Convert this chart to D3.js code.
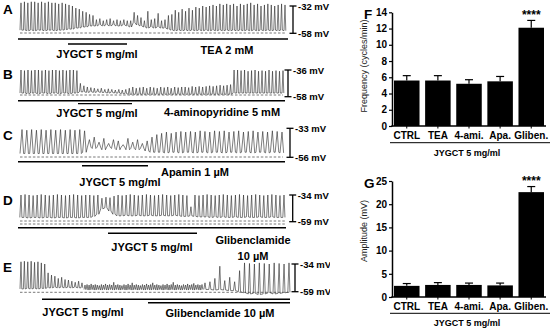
<!DOCTYPE html>
<html><head><meta charset="utf-8">
<script src="https://cdn.jsdelivr.net/npm/d3@7"></script>
<style>
body{margin:0;background:#fff}
svg{display:block}
text{font-family:"Liberation Sans",Arial,sans-serif}
</style>
</head><body>
<svg id="c" width="550" height="328"></svg>
<script>
// ---------- bar chart data ----------
const categories = ["CTRL","TEA","4-ami.","Apa.","Gliben."];
const freqMean = [5.6,5.6,5.2,5.5,12.1];
const freqErr  = [0.6,0.6,0.5,0.6,0.9];
const ampMean  = [2.4,2.6,2.6,2.5,22.6];
const ampErr   = [0.5,0.5,0.4,0.5,1.2];
const freqTicks = [0,2,4,6,8,10,12,14];
const ampTicks  = [0,5,10,15,20,25];
const sigLabel = "****";
const groupLabel = "JYGCT 5 mg/ml";

// ---------- trace data: [spike peak mV, trough mV] per spike ----------
const traceA = [
[-29,-55],[-28,-55],[-29,-55.5],[-28,-55],[-28,-55.5],[-29,-55],[-28,-55],[-29,-55.5],[-28,-55],[-29,-55],[-29,-55.5],[-30,-55],[-29,-55],[-30,-54.5],
[-31,-54],[-32,-54],[-34,-53],[-35,-53],[-37,-52],[-38,-52],[-40,-51],[-41,-51],
[-45,-51],[-44,-50],[-46,-51],[-45,-50],[-44,-51],[-46,-50],[-45,-51],[-46,-51],[-45,-50],[-46,-51],[-46,-52],
[-38,-48],[-41,-50],[-43,-51],
[-46,-52],[-37,-53],[-45,-52],[-44,-53],[-39,-52],[-46,-53],[-45,-53],[-41,-54],
[-40,-55],[-36,-55.5],[-38,-55],[-35,-55.5],[-37,-55],[-34,-55.5],[-36,-55],[-33,-55.5],[-34,-55],[-32,-55.5],[-33,-55],[-32,-55.5],[-31,-55],[-32,-55.5],[-30,-55],[-31,-55.5],[-30,-55],[-31,-55.5],[-30,-55],[-32,-55.5],[-30,-55],[-31,-55.5],[-30,-55],[-29,-55.5],[-31,-55],[-30,-55.5],[-32,-55],[-31,-55.5],[-30,-55],[-31,-55.5],[-32,-55],[-31,-55.5],[-30,-55],[-31,-55.5]];
const traceB = [
[-36,-55],[-36.5,-55],[-36,-55.5],[-36.5,-55],[-36,-55],[-36,-55.5],[-36.5,-55],[-36,-55],[-36.5,-55.5],[-36,-55],[-36,-55],[-36.5,-55.5],[-36,-55],[-36.5,-55],[-36,-55.5],[-36,-55],[-36.5,-55],
[-47,-54],[-49,-54],[-50,-54.5],[-50.5,-54],[-51,-54.5],[-51.5,-54],[-51,-54.5],[-52,-54.5],[-51.5,-55],[-52,-54.5],[-52.5,-55],[-52,-55],[-52.5,-55.5],[-52,-55.5],
[-51,-56],[-50,-56],[-51,-56],[-50.5,-56],[-50,-56],[-51,-56],[-50,-56],[-50.5,-56],[-51,-56],[-50,-56],[-50.5,-56],[-50,-56],[-51,-56],[-50,-56],[-50.5,-56],[-50,-56],[-50,-56],[-50.5,-56],[-49.5,-56],[-50,-56],[-49.5,-56],[-50,-56],[-49.5,-56],[-49,-56],[-49.5,-56],[-49,-56],[-48.5,-56],[-49,-56],[-48.5,-56],[-48,-56],
[-36,-55],[-36,-55],[-36.5,-55],[-36,-55],[-37,-55],[-36.5,-55],[-36,-55],[-37,-55],[-36.5,-55],[-37,-55],[-36,-55],[-37,-55],[-36.5,-55],[-37,-55],[-36.5,-55]];
const traceC = [
[-34,-53],[-34.5,-53],[-34,-53],[-34.5,-53],[-34,-53],[-34.5,-53],[-34,-53],[-34.5,-53],[-34,-53],[-34.5,-53],[-34,-53],[-34.5,-53],[-34,-53],
[-35,-52],[-42,-48],[-40,-49],[-44,-48],[-41,-50],[-45,-48],[-42,-49],[-43,-50],[-46,-48],[-41,-50],[-44,-49],[-42,-50],[-45,-49],[-43,-51],
[-40,-52],[-38,-52],[-37,-52],[-36,-52.5],[-37,-52],[-36,-52],[-35.5,-52.5],[-36,-52],[-35.5,-52],[-36,-52.5],[-35,-52],[-35.5,-52],[-36,-52.5],[-35,-52],[-35.5,-52],[-35,-52.5],[-36,-52],[-35.5,-52],[-35,-52.5],[-36,-52],[-35.5,-52],[-35,-52.5],[-36,-52],[-35.5,-52],[-36,-52.5],[-35,-52],[-35.5,-52],[-36,-52.5]];
const traceD = [
[-34,-55],[-33.5,-55],[-34,-55.5],[-34.5,-55],[-34,-55],[-33.5,-55.5],[-34,-55],[-34.5,-55],[-34,-55.5],[-33.5,-55],[-34,-55],[-34.5,-55.5],[-34,-55],[-33.5,-55],[-34,-55.5],[-34.5,-55],[-34,-55],[-34,-55],[-34.5,-54],[-34,-52],
[-37,-47],[-36,-46],[-36.5,-49],[-35,-52],
[-34,-53.5],[-34.5,-53.5],[-34,-53],[-33.5,-53.5],[-34,-53.5],[-34.5,-53],[-34,-53.5],[-33.5,-53.5],[-34,-53],[-34.5,-53.5],[-34,-53.5],[-33.5,-53],[-34,-53.5],[-34.5,-53.5],[-34,-53],[-33.5,-53.5],[-34,-54],[-34.5,-54],[-45,-53.5],[-34,-54],[-34.5,-54.5],[-34,-54.5],[-33.5,-54.5],[-34,-55],[-34.5,-54.5],[-34,-55],[-33.5,-54.5],[-34,-55],[-34.5,-55],[-34,-54.5],[-33.5,-55],[-34,-55],[-34.5,-54.5],[-34,-55],[-33.5,-55],[-34,-54.5],[-34.5,-55],[-34,-55],[-33.5,-54.5],[-34,-55],[-34.5,-55],[-34,-55]];
const traceE1 = [
[-32,-56.5],[-31.5,-56.5],[-32,-56],[-31.5,-56.5],[-32.5,-56],[-32,-56.5],[-33,-56],[-34,-56],
[-42,-55.5],[-44,-55.5],[-45,-55],[-47,-55.5],[-46,-55],[-48,-55.5],[-48.5,-55],[-49.5,-55.5],[-50.5,-55],[-49.5,-55.5],[-51,-55.5]];
const bandE = [
[-53,-57],[-52.5,-57],[-53,-57.5],[-52,-57],[-53,-57],[-52.5,-57.5],[-53,-57],[-53.5,-57],[-52.5,-57.5],[-53,-57],[-52,-57],[-53,-57.5],[-52.5,-57],[-53,-57],[-50.5,-57.5],[-53,-57],[-52.5,-57],[-53,-57.5],[-53.5,-57],[-52.5,-57],[-53,-57.5],[-52,-57],[-53,-57],[-51,-57.5],[-53,-57],[-52.5,-57],[-53,-57.5],[-53.5,-57],[-52.5,-57],[-53,-57.5],[-52,-57],[-53,-57],[-52.5,-57.5],[-51,-57],[-53,-57],[-52.5,-57.5],[-53,-57],[-53.5,-57],[-52.5,-57.5],[-53,-57],[-52,-57],[-53,-57.5],[-52.5,-57],[-50.5,-57],[-53,-57.5],[-52.5,-57],[-53,-57],[-53.5,-57.5],[-52.5,-57],[-53,-57],[-52,-57.5],[-53,-57],[-52.5,-57],[-51.5,-57.5],[-53,-57],[-52.5,-57],[-53,-57.5],[-52.5,-57]];
const traceE2 = [
[-51,-57],[-50,-57],[-47,-57.5],[-36,-57],[-49,-57.5],[-46,-58],[-50,-58],[-40,-59],[-33,-60],[-33.5,-61],[-34,-60.5],[-33,-61.5],[-33.5,-61],[-34,-60],[-33,-61],[-33.5,-60.5],[-34,-60],[-33,-59.5]];

// ---------- drawing ----------
const svg = d3.select("#c");
const FONT = '"Liberation Sans",Arial,sans-serif';

function trainPath(data, x0, x1, y, w) {
  const x = d3.scaleLinear().domain([0, data.length - 1]).range([x0, x1]);
  const p = d3.path();
  data.forEach(([pk, bs], i) => {
    const xc = x(i);
    if (i === 0) p.moveTo(xc - w, y(bs)); else p.lineTo(xc - w, y(bs));
    p.lineTo(xc, y(pk));
    p.lineTo(xc + w * 0.8, y(bs));
  });
  return p.toString();
}

const panels = [
 {letter:"A", letterY:13.5, barX:293, top:6, bot:33.3, mvTop:-32, mvBot:-58,
  trains:[{data:traceA,x0:21,x1:285,w:1}],
  dashed:[{y:33,x0:20,x1:285}],
  lines:[{y:39,x0:18,x1:288},{y:44,x0:68,x1:127}],
  texts:[{t:"JYGCT 5 mg/ml",x:97,y:58},{t:"TEA 2 mM",x:227,y:54}]},
 {letter:"B", letterY:79, barX:288, top:70, bot:96.7, mvTop:-36, mvBot:-58,
  trains:[{data:traceB,x0:21,x1:283,w:1}],
  dashed:[{y:95,x0:20,x1:283}],
  lines:[{y:100.7,x0:18,x1:285},{y:103.6,x0:78,x1:132}],
  texts:[{t:"JYGCT 5 mg/ml",x:97,y:117},{t:"4-aminopyridine 5 mM",x:222,y:116}]},
 {letter:"C", letterY:140, barX:290, top:128.3, bot:157.3, mvTop:-33, mvBot:-56,
  trains:[{data:traceC,x0:22,x1:282,w:2}],
  dashed:[{y:157,x0:20,x1:283}],
  lines:[{y:161.7,x0:18,x1:285},{y:165.7,x0:82,x1:148}],
  texts:[{t:"JYGCT 5 mg/ml",x:120,y:186},{t:"Apamin 1 µM",x:195,y:176}]},
 {letter:"D", letterY:205, barX:292.7, top:195, bot:221.7, mvTop:-34, mvBot:-59,
  trains:[{data:traceD,x0:21,x1:284,w:1.2}],
  dashed:[{y:221,x0:20,x1:285},{y:224,x0:20,x1:285}],
  lines:[{y:227.7,x0:18,x1:286},{y:233.3,x0:108,x1:197}],
  texts:[{t:"JYGCT 5 mg/ml",x:152,y:251},{t:"Glibenclamide",x:253,y:244},{t:"10 µM",x:253,y:260}]},
 {letter:"E", letterY:272, barX:295, top:264, bot:291.7, mvTop:-34, mvBot:-59,
  trains:[{data:traceE1,x0:21,x1:82,w:1},{data:bandE,x0:85,x1:202,w:1},{data:traceE2,x0:205,x1:289,w:1.2}],
  dashed:[{y:292.3,x0:20,x1:290}],
  lines:[{y:299.3,x0:42,x1:290},{y:302.7,x0:148,x1:290}],
  texts:[{t:"JYGCT 5 mg/ml",x:83,y:316},{t:"Glibenclamide 10 µM",x:220,y:317}]}
];

svg.append("clipPath").attr("id","leftclip").append("rect").attr("x",0).attr("y",0).attr("width",330).attr("height",328);
const left = svg.append("g").attr("clip-path","url(#leftclip)");

panels.forEach(P => {
  const g = left.append("g");
  const y = d3.scaleLinear().domain([P.mvBot, P.mvTop]).range([P.bot, P.top]);
  g.append("text").attr("x",3).attr("y",P.letterY).attr("font-size",13.5).attr("font-weight","bold").text(P.letter);
  P.dashed.forEach(d => g.append("line").attr("x1",d.x0).attr("x2",d.x1).attr("y1",d.y).attr("y2",d.y)
     .attr("stroke","#555").attr("stroke-width",0.8).attr("stroke-dasharray","2.5,1.8"));
  P.trains.forEach(t => g.append("path").attr("d", trainPath(t.data, t.x0, t.x1, y, t.w))
     .attr("fill","none").attr("stroke","#262626").attr("stroke-width",0.6).attr("stroke-linejoin","round"));
  P.lines.forEach(l => g.append("line").attr("x1",l.x0).attr("x2",l.x1).attr("y1",l.y).attr("y2",l.y)
     .attr("stroke","#000").attr("stroke-width",1.4));
  // scale bar
  const sb = g.append("g").attr("stroke","#000").attr("stroke-width",1.3);
  sb.append("line").attr("x1",P.barX).attr("x2",P.barX).attr("y1",y(P.mvTop)).attr("y2",y(P.mvBot));
  [P.mvTop,P.mvBot].forEach(v => sb.append("line").attr("x1",P.barX-3.5).attr("x2",P.barX+3.5).attr("y1",y(v)).attr("y2",y(v)));
  [P.mvTop,P.mvBot].forEach(v => g.append("text").attr("x",P.barX+5).attr("y",y(v)+3.5)
     .attr("font-size",9.5).attr("font-weight","bold").text(`${v} mV`));
  P.texts.forEach(t => g.append("text").attr("x",t.x).attr("y",t.y).attr("text-anchor","middle")
     .attr("font-size",11).attr("font-weight","bold").text(t.t));
});

// ---------- bar charts ----------
function barChart(opt) {
  const g = svg.append("g");
  const x = d3.scaleBand().domain(categories).range([394,544]).paddingInner(0.18).paddingOuter(0);
  const y = d3.scaleLinear().domain([0, opt.max]).range([opt.y0, opt.yTop]);
  g.append("text").attr("x",364).attr("y",opt.letterY).attr("font-size",13.5).attr("font-weight","bold").text(opt.letter);
  g.selectAll("rect.bar").data(categories).join("rect")
    .attr("x", d => x(d)).attr("width", x.bandwidth())
    .attr("y", (d,i) => y(opt.mean[i])).attr("height", (d,i) => y(0) - y(opt.mean[i]))
    .attr("fill","#000");
  const eb = g.append("g").attr("stroke","#000").attr("stroke-width",1.2);
  categories.forEach((d,i) => {
    const cx = x(d) + x.bandwidth()/2;
    eb.append("line").attr("x1",cx).attr("x2",cx).attr("y1",y(opt.mean[i])).attr("y2",y(opt.mean[i]+opt.err[i]));
    eb.append("line").attr("x1",cx-4).attr("x2",cx+4).attr("y1",y(opt.mean[i]+opt.err[i])).attr("y2",y(opt.mean[i]+opt.err[i]));
  });
  const last = categories.length - 1;
  g.append("text").attr("x", x(categories[last]) + x.bandwidth()/2).attr("y", y(opt.mean[last]+opt.err[last]) - 1.5)
    .attr("text-anchor","middle").attr("font-size",12).attr("font-weight","bold").text(sigLabel);
  const ya = g.append("g").attr("transform","translate(392,0)")
    .call(d3.axisLeft(y).tickValues(opt.ticks).tickSize(3).tickSizeOuter(0).tickPadding(2));
  ya.select(".domain").attr("stroke-width",1.5);
  ya.selectAll(".tick line").attr("stroke-width",1.2);
  ya.selectAll("text").attr("font-size",10).attr("font-weight","bold").attr("font-family",FONT).attr("fill","#000");
  const xa = g.append("g").attr("transform",`translate(0,${y(0)})`)
    .call(d3.axisBottom(x).tickSize(2.5).tickSizeOuter(0).tickPadding(3));
  xa.select(".domain").remove();
  xa.selectAll("text").attr("font-size",10).attr("font-weight","bold").attr("font-family",FONT).attr("fill","#000");
  g.append("line").attr("x1",391.3).attr("x2",546).attr("y1",y(0)).attr("y2",y(0)).attr("stroke","#000").attr("stroke-width",1.5);
  g.append("line").attr("x1",390).attr("x2",550).attr("y1",opt.groupY).attr("y2",opt.groupY).attr("stroke","#000").attr("stroke-width",1);
  g.append("text").attr("x",467).attr("y",opt.groupY+13).attr("text-anchor","middle")
    .attr("font-size",9).attr("font-weight","bold").text(groupLabel);
  g.append("text").attr("transform",`translate(${367},${opt.labelY}) rotate(-90)`).attr("text-anchor","middle")
    .attr("font-size",9).attr("fill","#222").text(opt.ylabel);
}

barChart({letter:"F", letterY:19, max:14, y0:126, yTop:12.3, ticks:freqTicks, mean:freqMean, err:freqErr,
  groupY:142.7, labelY:66, ylabel:"Frequency (cycles/min)"});
barChart({letter:"G", letterY:188, max:25, y0:297, yTop:181, ticks:ampTicks, mean:ampMean, err:ampErr,
  groupY:313.3, labelY:231, ylabel:"Amplitude (mV)"});
</script>
</body></html>
